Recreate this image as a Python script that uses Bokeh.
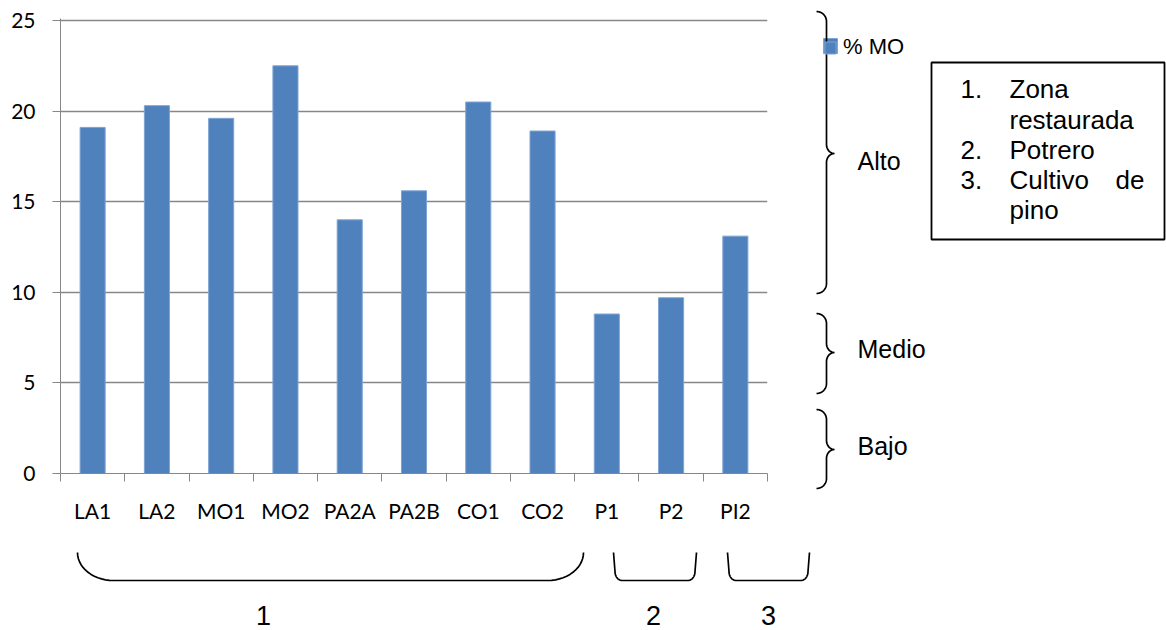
import math
from bokeh.plotting import figure
from bokeh.layouts import column, row
from bokeh.models import Range1d, FixedTicker
from bokeh.core.properties import value
from bokeh.embed import file_html
from bokeh.resources import INLINE

# ---------------- data ----------------
categories = ["LA1", "LA2", "MO1", "MO2", "PA2A", "PA2B", "CO1", "CO2", "P1", "P2", "PI2"]
mo_pct = [19.1, 20.3, 19.6, 22.5, 14.0, 15.6, 20.5, 18.9, 8.8, 9.7, 13.1]
y_ticks = [0, 5, 10, 15, 20, 25]
series_name = "% MO"
level_labels = ["Alto", "Medio", "Bajo"]
group_labels = ["1", "2", "3"]
box_items = [("1.", "Zona"), ("", "restaurada"), ("2.", "Potrero"), ("3.", "Cultivo"), ("", "pino")]
box_extra_word = "de"

# ---------------- layout ----------------
W, H = 1166, 630
CW, CH = 790, 540            # chart figure size
FL, FR, FT, FB = 60, 767, 20, 473
BAR_COLOR = "#4F81BD"
BAR_EDGE = "#7FA3D3"
GRID_COLOR = "#878787"
TICK_FONT = "Lato"
ARIAL = "Liberation Sans"

n = len(categories)
x_pos = list(range(1, n + 1))
boundaries = [i + 0.5 for i in range(n + 1)]
label_map = {x: c for x, c in zip(x_pos, categories)}

top_pad = 2
y_end = y_ticks[-1] * (FB - FT + top_pad) / (FB - FT)

p = figure(width=CW, height=CH,
           x_range=Range1d(0.5, n + 0.5), y_range=Range1d(y_ticks[0], y_end),
           output_backend="svg", toolbar_location=None,
           min_border_left=FL, min_border_right=CW - FR,
           min_border_top=FT - top_pad, min_border_bottom=CH - FB)
p.frame_align = False
p.outline_line_color = None
p.background_fill_color = "white"
p.border_fill_color = "white"

p.vbar(x=x_pos, top=mo_pct, width=0.39, fill_color=BAR_COLOR,
       line_color=BAR_EDGE, line_width=1)

# y axis
p.yaxis.ticker = FixedTicker(ticks=y_ticks)
p.yaxis.axis_line_color = GRID_COLOR
p.yaxis.major_tick_line_color = GRID_COLOR
p.yaxis.major_tick_out = 8
p.yaxis.major_tick_in = 0
p.yaxis.minor_tick_line_color = None
p.yaxis.major_label_standoff = 17
p.yaxis.major_label_text_font = TICK_FONT
p.yaxis.major_label_text_font_size = "21px"
p.yaxis.major_label_text_color = "black"
p.ygrid.grid_line_color = GRID_COLOR
p.ygrid.grid_line_width = 1.3

# x axis: labels at centres, tick marks at boundaries
p.xaxis.ticker = FixedTicker(ticks=x_pos, minor_ticks=boundaries)
p.xaxis.major_label_overrides = label_map
p.xaxis.axis_line_color = GRID_COLOR
p.xaxis.major_tick_line_color = None
p.xaxis.major_tick_out = 0
p.xaxis.major_tick_in = 0
p.xaxis.minor_tick_line_color = GRID_COLOR
p.xaxis.minor_tick_out = 8
p.xaxis.minor_tick_in = 0
p.xaxis.major_label_standoff = 16
p.xaxis.major_label_text_font = TICK_FONT
p.xaxis.major_label_text_font_size = "21px"
p.xaxis.major_label_text_color = "black"
p.xgrid.visible = False


def blank_fig(w, h, x0, x1, y0, y1):
    f = figure(width=w, height=h, x_range=Range1d(x0, x1), y_range=Range1d(y1, y0),
               output_backend="svg", toolbar_location=None,
               x_axis_location=None, y_axis_location=None, min_border=0)
    f.frame_align = False
    f.outline_line_color = None
    f.grid.visible = False
    f.background_fill_color = "white"
    f.border_fill_color = "white"
    return f


# side panel (page pixel coordinates) and bottom panel
side = blank_fig(W - CW, CH, CW, W, 0, CH)
bottom = blank_fig(W, H - CH, 0, W, CH, H)


def arc(cx, cy, rx, ry, f, steps=14):
    return [f(cx, cy, rx, ry, (math.pi / 2) * k / steps) for k in range(steps + 1)]


def draw_path(fig, pts, width=1.7):
    fig.line([a for a, b in pts], [b for a, b in pts], line_color="black", line_width=width)


def vbrace(y0, ym, y1, xe=816, xl=826, xt=834, r=10, rt=9):
    pts = []
    pts += arc(xe, y0 + r, r, r, lambda cx, cy, rx, ry, t: (cx + rx * math.sin(t), cy - ry * math.cos(t)))
    pts += arc(xt, ym - rt, xt - xl, rt, lambda cx, cy, rx, ry, t: (cx - rx * math.cos(t), cy + ry * math.sin(t)))
    pts += arc(xt, ym + rt, xt - xl, rt, lambda cx, cy, rx, ry, t: (cx - rx * math.sin(t), cy - ry * math.cos(t)))
    pts += arc(xe, y1 - r, r, r, lambda cx, cy, rx, ry, t: (cx + rx * math.cos(t), cy + ry * math.sin(t)))
    draw_path(side, pts)


def hbrace(xl, xr, ytop=552, ybot=580, rx=36, ry=28, slant=0.0):
    pts = [(xl, ytop)]
    pts += arc(xl + slant + rx, ybot - ry, rx, ry,
               lambda cx, cy, a, b, t: (cx - a * math.cos(t), cy + b * math.sin(t)))
    pts += arc(xr - slant - rx, ybot - ry, rx, ry,
               lambda cx, cy, a, b, t: (cx + a * math.sin(t), cy + b * math.cos(t)))
    pts.append((xr, ytop))
    draw_path(bottom, pts)


def text(fig, px, py, s, size, font=ARIAL, align="left"):
    fig.text(x=[px], y=[py], text=[s], text_font=value(font), text_font_size=size,
             text_color="black", text_align=align, text_baseline="middle")


# legend swatch (also the legend's renderer) in the side panel
side.quad(left=[823], right=[837], top=[38], bottom=[53], fill_color=BAR_COLOR,
          line_color=BAR_EDGE, line_width=1, legend_label=series_name)
lg = side.legend[0]
lg.location = (33, 480)
lg.border_line_color = None
lg.background_fill_alpha = 0
lg.padding = 0
lg.margin = 0
lg.glyph_width = 14
lg.glyph_height = 15
lg.label_height = 15
lg.label_standoff = 6
lg.label_text_font = ARIAL
lg.label_text_font_size = "22px"
lg.label_text_color = "black"

# right-hand braces and levels
vbrace(11, 153, 293)
vbrace(313, 352, 393)
vbrace(409, 449, 488)
for s, cy in zip(level_labels, [160, 348, 445]):
    text(side, 857, cy, s, "25px")

# box with group names
bx0, bx1, by0, by1 = 931, 1164, 62, 239
side.quad(left=[bx0], right=[bx1], top=[by0], bottom=[by1], fill_alpha=0,
          line_color="black", line_width=1.8)
for (num, word), cy in zip(box_items, [88.5, 119, 149, 179, 209]):
    if num:
        text(side, 960, cy, num, "26px")
    text(side, 1009, cy, word, "26px")
text(side, 1144, 179, box_extra_word, "26px", align="right")

# bottom group braces
hbrace(77, 583, rx=36, ry=28)
hbrace(613, 696, rx=7, ry=9, slant=1.5)
hbrace(727, 809, rx=7, ry=9, slant=1.5)
for s, cx in zip(group_labels, [263, 653, 768]):
    text(bottom, cx, 615, s, "27px", align="center")

layout = column(row(p, side, spacing=0), bottom, spacing=0)
open("out.html", "w").write(file_html(layout, INLINE))
